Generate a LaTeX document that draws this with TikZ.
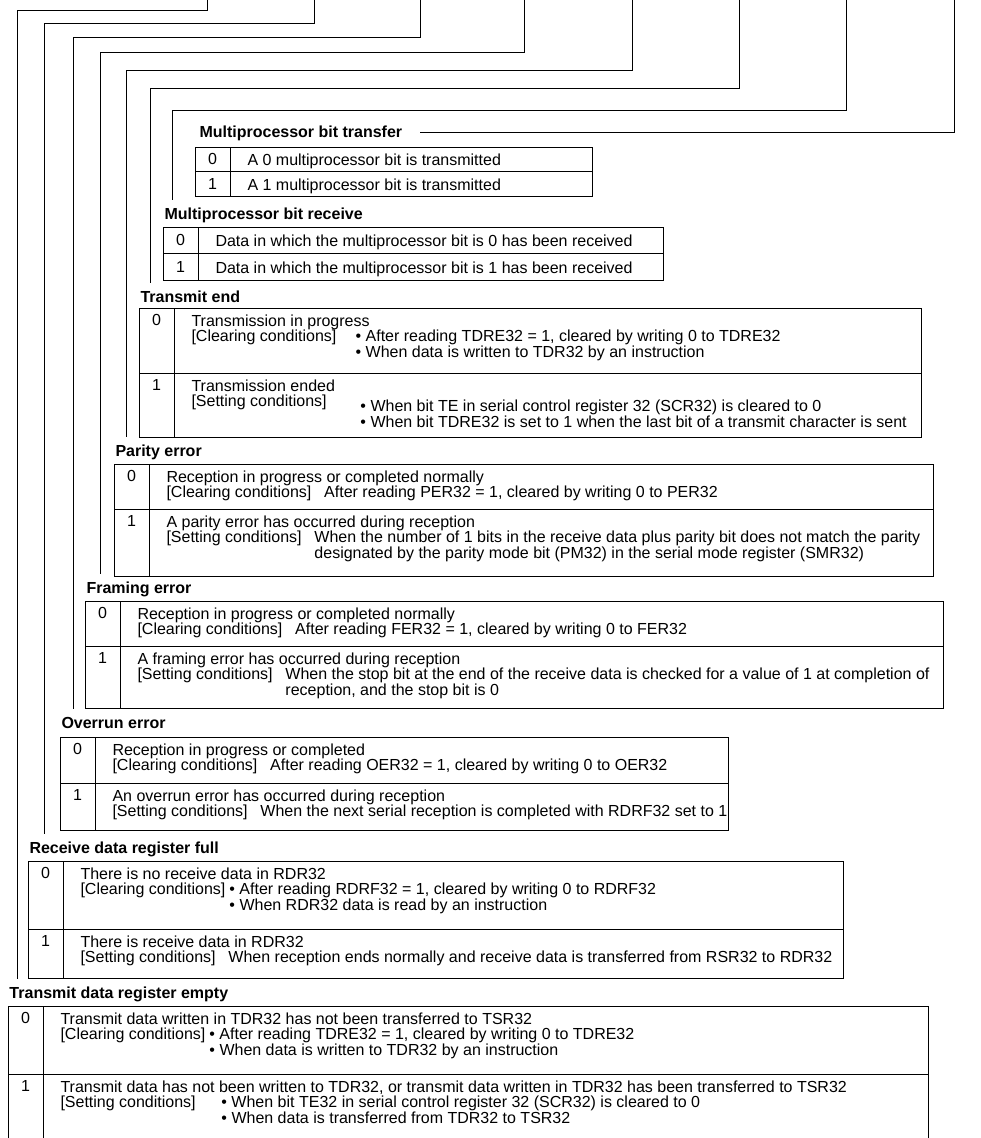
\documentclass[tikz,border=0pt]{standalone}
\usepackage{fontspec}
\setmainfont{Liberation Sans}
\usetikzlibrary{calc}

\newlength{\labc}
\newlength{\labs}
\newlength{\labn}
\newlength{\labsb}
\newlength{\labt}
\newlength{\labtb}
\newcommand{\condlab}[2]{\makebox[#1][l]{#2}}

\begin{document}
\fontsize{12}{11.9}\selectfont
\settowidth{\labc}{[Clearing conditions]\hspace{0.8em}}
\settowidth{\labs}{[Setting conditions]\hspace{0.8em}}
\settowidth{\labn}{[Clearing conditions]\hspace{0.25em}}
\settowidth{\labsb}{[Clearing conditions]\hspace{1.0em}}
\settowidth{\labt}{[Clearing conditions]\hspace{1.2em}}
\settowidth{\labtb}{[Clearing conditions]\hspace{1.5em}}
\begin{tikzpicture}[x=0.75pt, y=-0.75pt,
  line width=0.75pt,
  fldtitle/.style={font=\bfseries, inner sep=0pt, anchor=base west},
  bitval/.style={inner sep=0pt, anchor=base},
  celltext/.style={inner sep=0pt, anchor=north west, align=left, execute at begin node=\strut},
  leader/.style={line width=0.75pt},
  tblline/.style={line width=0.75pt}
]
\useasboundingbox (0,0) rectangle (981,1138);

% table frames
\foreach \l/\r/\t/\m/\b in {195/592/147/171/196, 163/663/227/253/280,
    139/921/308/373/437, 114/933/464/509/576, 85/943/601/646/708,
    60/728/737/783/830, 28/843/861/929/978}
  \draw[tblline] (\l,\t) rectangle (\r,\b) (\l,\m) -- (\r,\m) (\l+35,\t) -- (\l+35,\b);
\draw[tblline] (8,1140) -- (8,1006) -- (928,1006) -- (928,1140)
  (8,1074) -- (928,1074) (43,1006) -- (43,1140);

% field titles
\node[fldtitle] (f0) at (199,137) {Multiprocessor bit transfer};
\node[fldtitle] (f1) at (164,219) {Multiprocessor bit receive};
\node[fldtitle] (f2) at (140,302) {Transmit end};
\node[fldtitle] (f3) at (115,456) {Parity error};
\node[fldtitle] (f4) at (86,593) {Framing error};
\node[fldtitle] (f5) at (61,728) {Overrun error};
\node[fldtitle] (f6) at (29,853) {Receive data register full};
\node[fldtitle] (f7) at (9,998) {Transmit data register empty};

% bit 0
\node[bitval] (v0a) at (212.5,164) {0};
\node[bitval] (v0b) at (212.5,189) {1};
\node[celltext] (c0a) at (247,153) {A 0 multiprocessor bit is transmitted};
\node[celltext] (c0b) at (247,178) {A 1 multiprocessor bit is transmitted};

% bit 1
\node[bitval] (v1a) at (180.5,245) {0};
\node[bitval] (v1b) at (180.5,272) {1};
\node[celltext] (c1a) at (215,234) {Data in which the multiprocessor bit is 0 has been received};
\node[celltext] (c1b) at (215,261) {Data in which the multiprocessor bit is 1 has been received};

% bit 2
\node[bitval] (v2a) at (156.5,325) {0};
\node[bitval] (v2b) at (156.5,390) {1};
\node[celltext] (c2a) at (191,314) {Transmission in progress\\
  \condlab{\labt}{[Clearing conditions]}• After reading TDRE32 = 1, cleared by writing 0 to TDRE32\\
  \condlab{\labt}{}• When data is written to TDR32 by an instruction};
\node[celltext] (c2b) at (191,379) {Transmission ended\\
  \condlab{\labtb}{[Setting conditions]}\smash{\raisebox{-3.5pt}{• When bit TE in serial control register 32 (SCR32) is cleared to 0}}\\[3.5pt]
  \condlab{\labtb}{}• When bit TDRE32 is set to 1 when the last bit of a transmit character is sent};

% bit 3
\node[bitval] (v3a) at (131.5,481) {0};
\node[bitval] (v3b) at (131.5,526) {1};
\node[celltext] (c3a) at (166,470) {Reception in progress or completed normally\\
  \condlab{\labc}{[Clearing conditions]}After reading PER32 = 1, cleared by writing 0 to PER32};
\node[celltext] (c3b) at (166,515) {A parity error has occurred during reception\\
  \condlab{\labs}{[Setting conditions]}When the number of 1 bits in the receive data plus parity bit does not match the parity\\
  \condlab{\labs}{}designated by the parity mode bit (PM32) in the serial mode register (SMR32)};

% bit 4
\node[bitval] (v4a) at (102.5,618) {0};
\node[bitval] (v4b) at (102.5,663) {1};
\node[celltext] (c4a) at (137,607) {Reception in progress or completed normally\\
  \condlab{\labc}{[Clearing conditions]}After reading FER32 = 1, cleared by writing 0 to FER32};
\node[celltext] (c4b) at (137,652) {A framing error has occurred during reception\\
  \condlab{\labs}{[Setting conditions]}When the stop bit at the end of the receive data is checked for a value of 1 at completion of\\
  \condlab{\labs}{}reception, and the stop bit is 0};

% bit 5
\node[bitval] (v5a) at (77.5,754) {0};
\node[bitval] (v5b) at (77.5,800) {1};
\node[celltext] (c5a) at (112,743) {Reception in progress or completed\\
  \condlab{\labc}{[Clearing conditions]}After reading OER32 = 1, cleared by writing 0 to OER32};
\node[celltext] (c5b) at (112,789) {An overrun error has occurred during reception\\
  \condlab{\labs}{[Setting conditions]}When the next serial reception is completed with RDRF32 set to 1};

% bit 6
\node[bitval] (v6a) at (45.5,878) {0};
\node[bitval] (v6b) at (45.5,946) {1};
\node[celltext] (c6a) at (80,867) {There is no receive data in RDR32\\
  \condlab{\labn}{[Clearing conditions]}• After reading RDRF32 = 1, cleared by writing 0 to RDRF32\\
  \condlab{\labn}{}• When RDR32 data is read by an instruction};
\node[celltext] (c6b) at (80,935) {There is receive data in RDR32\\
  \condlab{\labs}{[Setting conditions]}When reception ends normally and receive data is transferred from RSR32 to RDR32};

% bit 7
\node[bitval] (v7a) at (25.5,1023) {0};
\node[bitval] (v7b) at (25.5,1091) {1};
\node[celltext] (c7a) at (60,1012) {Transmit data written in TDR32 has not been transferred to TSR32\\
  \condlab{\labn}{[Clearing conditions]}• After reading TDRE32 = 1, cleared by writing 0 to TDRE32\\
  \condlab{\labn}{}• When data is written to TDR32 by an instruction};
\node[celltext] (c7b) at (60,1080) {Transmit data has not been written to TDR32, or transmit data written in TDR32 has been transferred to TSR32\\
  \condlab{\labsb}{[Setting conditions]}• When bit TE32 in serial control register 32 (SCR32) is cleared to 0\\
  \condlab{\labsb}{}• When data is transferred from TDR32 to TSR32};

% leader lines from the register bits
\coordinate (top0) at (954,0);
\coordinate (top1) at (846,0);
\coordinate (top2) at (739,0);
\coordinate (top3) at (632,0);
\coordinate (top4) at (524,0);
\coordinate (top5) at (420,0);
\coordinate (top6) at (314,0);
\coordinate (top7) at (207,0);
\draw[leader] ([xshift=13pt]f0.east) -| (top0);
\draw[leader] (top1) |- (172,110) -- ($(f1.north -| 172,0)+(0,-7)$);
\draw[leader] (top2) |- (150,89) -- ($(f2.north -| 150,0)+(0,-7)$);
\draw[leader] (top3) |- (126,71) -- ($(f3.north -| 126,0)+(0,-7)$);
\draw[leader] (top4) |- (100,53) -- ($(f4.north -| 100,0)+(0,-7)$);
\draw[leader] (top5) |- (73,38) -- ($(f5.north -| 73,0)+(0,-7)$);
\draw[leader] (top6) |- (44,24) -- ($(f6.north -| 44,0)+(0,-7)$);
\draw[leader] (top7) |- (17,11) -- ($(f7.north -| 17,0)+(0,-7)$);
\end{tikzpicture}
\end{document}
